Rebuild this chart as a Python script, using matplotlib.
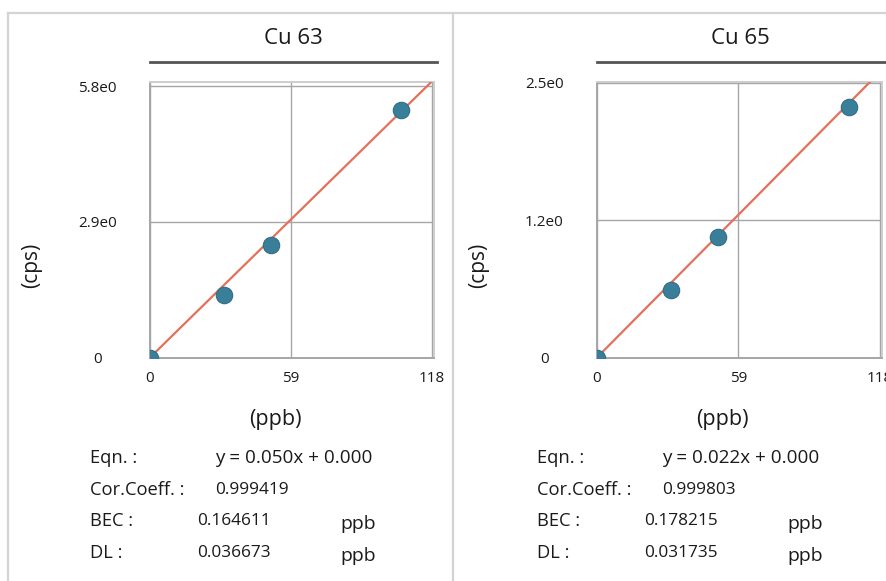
import matplotlib
matplotlib.use("Agg")
import matplotlib.pyplot as plt
from matplotlib.lines import Line2D

W, H = 887, 581
plt.rcParams['font.family'] = ['Open Sans', 'DejaVu Sans']

# calibration data
conc = [0, 31, 50.5, 105.3]
cu63_cps = [0.0, 1.33, 2.41, 5.30]
cu65_cps = [0.0, 0.61, 1.10, 2.28]

titles = ["Cu 63", "Cu 65"]
slopes = [0.050, 0.022]
intercepts = [0.000, 0.000]
x_ticks = [0, 59, 118]
y_ticks = [[0, 2.9, 5.8], [0, 1.25, 2.5]]
y_ticklabels = [["0", "2.9e0", "5.8e0"], ["0", "1.2e0", "2.5e0"]]
y_max = [5.9, 2.51]
cor_coeff = ["0.999419", "0.999803"]
bec = ["0.164611", "0.178215"]
dl = ["0.036673", "0.031735"]

DOT = "#3a7f99"
FIT = "#e4705a"
GRID = "#a4a6aa"
FRAME = "#d4d4d4"
TXT = "#1a1a1a"


def fx(px):
    return px / W


def fy(py):
    return 1 - py / H


fig = plt.figure(figsize=(W / 100, H / 100), dpi=100)

# panel borders
for xs, ys in [([8, 887], [13, 13]), ([8, 8], [13, 581]), ([453, 453], [13, 581])]:
    fig.add_artist(Line2D([fx(x) for x in xs], [fy(y) for y in ys], color=FRAME, lw=1.6))

panels = [dict(x0=150, x1=434, dx=0), dict(x0=597, x1=882, dx=447)]
series = [cu63_cps, cu65_cps]

for i, p in enumerate(panels):
    ax = fig.add_axes([fx(p["x0"]), fy(357.5), (p["x1"] - p["x0"]) / W, (357.5 - 81.7) / H])
    ax.set_xlim(0, 119)
    ax.set_ylim(0, y_max[i])

    xs = [0, 119]
    ax.plot(xs, [slopes[i] * x + intercepts[i] for x in xs], color=FIT, lw=1.6, zorder=3)
    ax.scatter(conc, series[i], s=140, color=DOT, edgecolor="#2f6e86", lw=0.8, zorder=4)

    ax.set_xticks(x_ticks)
    ax.set_xticklabels([str(t) for t in x_ticks])
    ax.set_yticks(y_ticks[i])
    ax.set_yticklabels(y_ticklabels[i])
    ax.grid(True, color=GRID, lw=1.0)
    ax.set_axisbelow(True)
    ax.tick_params(axis='both', length=0, labelsize=11, colors=TXT)
    ax.tick_params(axis='x', pad=10)
    ax.tick_params(axis='y', pad=38)
    for lab in ax.get_yticklabels():
        lab.set_horizontalalignment('center')
    for s in ax.spines.values():
        s.set_color("#cdcdcd")
        s.set_linewidth(1.4)
    ax.spines['left'].set_color(GRID)
    ax.spines['bottom'].set_color(GRID)

    cx = (p["x0"] + p["x1"]) / 2
    fig.text(fx(cx + 1), fy(38), titles[i], ha='center', va='center', fontsize=16, color=TXT)
    fig.add_artist(Line2D([fx(p["x0"]), fx(p["x1"] + 3)], [fy(62), fy(62)], color="#555555", lw=2))
    fig.text(fx(cx - 17), fy(419), "(ppb)", ha='center', va='center', fontsize=15.5, color=TXT)
    fig.text(fx(32 + p["dx"]), fy(265), "(cps)", ha='center', va='center', rotation=90,
             fontsize=15, color=TXT)

    d = p["dx"]
    rows = [
        ("Eqn. :", "y = %.3fx + %.3f" % (slopes[i], intercepts[i]), 215, "", 458),
        ("Cor.Coeff. :", cor_coeff[i], 215, "", 490),
        ("BEC :", bec[i], 197, "ppb", 521),
        ("DL :", dl[i], 197, "ppb", 553),
    ]
    for label, val, vx, unit, y in rows:
        fig.text(fx(90 + d), fy(y), label, ha='left', va='center', fontsize=13.2, color=TXT)
        fig.text(fx(vx + d), fy(y), val, ha='left', va='center',
                 fontsize=13.6 if label == "Eqn. :" else 12.4, color=TXT)
        if unit:
            fig.text(fx(340 + d), fy(y + 3), unit, ha='left', va='center', fontsize=14, color=TXT)

fig.savefig("out.png", dpi=100, facecolor="white")
